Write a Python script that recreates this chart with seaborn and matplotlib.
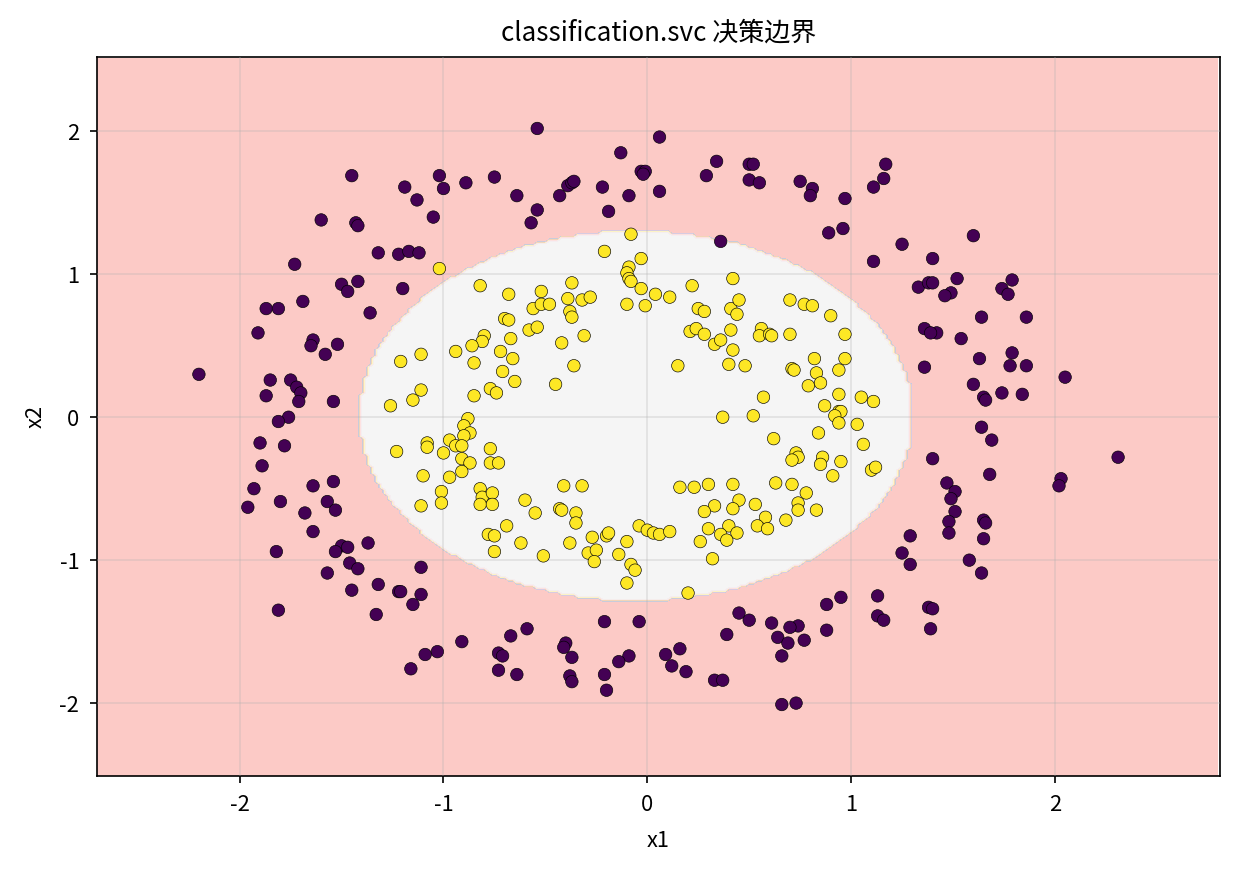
import numpy as np
import pandas as pd
import matplotlib
matplotlib.use("Agg")
import matplotlib.pyplot as plt
import seaborn as sns

# ---- data: class 0 (outer ring) ----
x0 = [-1.45, -1.60, -1.43, -1.42, -1.32, -1.73, -1.42, -1.50, -1.47, -1.69,
      -0.54, -0.13, -0.03, -0.01, -0.02, 0.06, 0.06, -1.02, -1.19, -1.00,
      -0.89, -0.75, -1.13, -1.05, -0.64, -0.54, -0.57, -0.43, -0.39, -0.37,
      -0.36, -0.22, -0.09, -0.19, -1.22, -1.17, -1.12, -1.20, 0.34, 0.29,
      0.50, 0.52, 0.50, 0.55, 0.75, 0.81, 0.80, 0.97, 0.89, 0.96,
      1.17, 1.16, 1.11, 1.25, 1.11, 1.40, 0.36, 1.33, 1.38, 1.40,
      1.60, 1.52, 1.79, 1.74, 1.49, 1.46, 1.77, 1.64, 1.86, 1.42,
      1.54, 1.63, 1.79, 1.78, 1.86, 2.05, 1.60, 1.65, 1.66, 1.74,
      1.84, 1.64, 1.69, 1.40, 2.31, 2.03, 2.02, 1.68, 1.47, 1.51,
      1.49, 1.51, 1.48, 1.65, 1.66, 1.48, 1.65, 1.58, 1.64, 1.36,
      1.39, 1.36, 1.29, 1.25, 1.29, 1.13, 1.13, 1.16, 1.38, 1.40,
      1.39, 0.95, 0.88, 0.88, 0.74, 0.70, 0.77, 0.61, 0.64, 0.69,
      0.66, 0.45, 0.50, 0.39, 0.09, 0.16, 0.12, 0.19, 0.33, 0.37,
      0.66, 0.73, -1.11, -1.32, -1.22, -1.21, -1.11, -1.15, -1.33, -0.59,
      -0.67, -0.91, -1.03, -1.09, -1.16, -0.73, -0.71, -0.73, -0.64, -0.40,
      -0.41, -0.37, -0.38, -0.37, -0.21, -0.04, -0.09, -0.14, -0.21, -0.20,
      -1.82, -1.81, -1.50, -1.47, -1.53, -1.37, -1.46, -1.42, -1.57, -1.45,
      -1.64, -1.87, -1.81, -1.36, -1.91, -1.64, -1.65, -1.52, -1.58, -2.20,
      -1.85, -1.75, -1.72, -1.70, -1.87, -1.71, -1.54, -1.76, -1.81, -1.90,
      -1.78, -1.89, -1.54, -1.64, -1.93, -1.80, -1.57, -1.53, -1.96, -1.68]
y0 = [1.69, 1.38, 1.36, 1.34, 1.15, 1.07, 0.95, 0.93, 0.88, 0.81,
      2.02, 1.85, 1.72, 1.72, 1.70, 1.96, 1.58, 1.69, 1.61, 1.60,
      1.64, 1.68, 1.52, 1.40, 1.55, 1.45, 1.36, 1.55, 1.62, 1.64,
      1.65, 1.61, 1.55, 1.44, 1.14, 1.16, 1.15, 0.90, 1.79, 1.69,
      1.77, 1.77, 1.66, 1.64, 1.65, 1.60, 1.55, 1.53, 1.29, 1.32,
      1.77, 1.67, 1.61, 1.21, 1.09, 1.11, 1.23, 0.91, 0.94, 0.94,
      1.27, 0.97, 0.96, 0.90, 0.87, 0.85, 0.86, 0.70, 0.70, 0.59,
      0.55, 0.41, 0.45, 0.36, 0.36, 0.28, 0.23, 0.14, 0.12, 0.17,
      0.16, -0.07, -0.16, -0.29, -0.28, -0.43, -0.48, -0.40, -0.46, -0.52,
      -0.57, -0.66, -0.73, -0.72, -0.74, -0.81, -0.85, -1.00, -1.09, 0.62,
      0.59, 0.35, -0.83, -0.95, -1.03, -1.25, -1.39, -1.42, -1.33, -1.34,
      -1.48, -1.26, -1.31, -1.49, -1.46, -1.47, -1.56, -1.44, -1.54, -1.58,
      -1.67, -1.37, -1.42, -1.52, -1.66, -1.62, -1.74, -1.78, -1.84, -1.84,
      -2.01, -2.00, -1.05, -1.17, -1.22, -1.22, -1.24, -1.31, -1.38, -1.48,
      -1.53, -1.57, -1.64, -1.66, -1.76, -1.65, -1.67, -1.77, -1.80, -1.58,
      -1.61, -1.68, -1.81, -1.85, -1.43, -1.43, -1.67, -1.71, -1.80, -1.91,
      -0.94, -1.35, -0.90, -0.91, -0.94, -0.88, -1.02, -1.06, -1.09, -1.21,
      -0.80, 0.76, 0.76, 0.73, 0.59, 0.54, 0.50, 0.51, 0.44, 0.30,
      0.26, 0.26, 0.21, 0.17, 0.15, 0.11, 0.11, 0.00, -0.03, -0.18,
      -0.20, -0.34, -0.45, -0.48, -0.50, -0.59, -0.59, -0.65, -0.63, -0.67]

# ---- data: class 1 (inner ring) ----
x1 = [-0.68, -0.56, -0.52, -0.48, -0.39, -0.32, -0.28, -0.10, -0.01, -0.38,
      -0.37, -0.70, -0.68, -0.58, -0.54, -0.80, -0.81, -0.86, -0.67, -0.94,
      -0.72, -0.66, -0.85, -0.71, -0.65, -0.42, -0.31, -0.36, -0.45, -1.21,
      -1.11, -1.11, -1.15, -1.26, -0.85, -0.77, -0.74, -0.88, -0.90, -0.87,
      -0.90, -0.97, -0.94, -0.91, -1.08, -1.08, -1.23, -1.00, -0.77, -0.91,
      -0.87, -0.77, -0.73, -0.91, -1.10, -0.97, -1.01, -1.01, -1.11, -0.82,
      -0.81, -0.82, -0.76, -0.76, -0.60, -0.55, -0.41, -0.32, -0.43, -0.42,
      -0.35, -0.35, -0.69, -0.78, -0.75, -0.27, -0.20, -0.19, -0.04, 0.00,
      0.03, -0.75, -0.62, -0.51, -0.38, -0.29, -0.25, -0.26, -0.14, -0.10,
      -0.08, -0.06, -0.10, -0.08, -0.21, -0.03, -0.09, -0.10, -0.09, -0.08,
      -0.03, -0.37, -0.82, -0.52, -1.02, 0.42, 0.22, 0.04, 0.11, 0.25,
      0.28, 0.41, 0.45, 0.44, 0.70, 0.77, 0.81, 0.90, 0.21, 0.24,
      0.28, 0.33, 0.36, 0.41, 0.42, 0.56, 0.55, 0.60, 0.61, 0.70,
      0.97, 0.15, 0.40, 0.48, 0.71, 0.72, 0.82, 0.97, 0.83, 0.94,
      0.79, 0.85, 0.94, 1.05, 1.11, 0.57, 0.87, 0.94, 0.95, 0.92,
      0.94, 1.03, 0.37, 0.52, 0.84, 0.62, 1.06, 0.73, 0.74, 0.71,
      0.86, 0.85, 0.95, 1.10, 1.12, 0.91, 0.16, 0.23, 0.30, 0.42,
      0.63, 0.71, 0.78, 0.74, 0.74, 0.83, 0.45, 0.42, 0.33, 0.28,
      0.53, 0.58, 0.54, 0.59, 0.68, 0.40, 0.44, 0.36, 0.30, 0.06,
      0.11, 0.26, 0.32, 0.20, 0.39]
y1 = [0.86, 0.76, 0.79, 0.79, 0.83, 0.82, 0.84, 0.79, 0.78, 0.74,
      0.70, 0.69, 0.68, 0.61, 0.63, 0.57, 0.53, 0.50, 0.55, 0.46,
      0.46, 0.41, 0.38, 0.32, 0.25, 0.52, 0.57, 0.36, 0.23, 0.39,
      0.44, 0.19, 0.12, 0.08, 0.15, 0.20, 0.17, -0.01, -0.06, -0.11,
      -0.13, -0.16, -0.20, -0.20, -0.18, -0.21, -0.24, -0.25, -0.22, -0.29,
      -0.32, -0.32, -0.32, -0.38, -0.41, -0.42, -0.52, -0.60, -0.62, -0.50,
      -0.56, -0.61, -0.53, -0.61, -0.58, -0.67, -0.48, -0.48, -0.64, -0.65,
      -0.67, -0.74, -0.76, -0.82, -0.83, -0.84, -0.83, -0.81, -0.76, -0.79,
      -0.81, -0.94, -0.88, -0.97, -0.88, -0.95, -0.93, -1.01, -0.96, -0.87,
      -1.03, -1.07, -1.16, 1.28, 1.16, 1.11, 1.05, 1.01, 0.97, 0.95,
      0.90, 0.94, 0.92, 0.88, 1.04, 0.97, 0.92, 0.86, 0.84, 0.76,
      0.74, 0.76, 0.82, 0.72, 0.82, 0.79, 0.78, 0.71, 0.60, 0.62,
      0.58, 0.51, 0.54, 0.61, 0.47, 0.62, 0.57, 0.58, 0.57, 0.58,
      0.58, 0.36, 0.37, 0.36, 0.34, 0.33, 0.41, 0.41, 0.31, 0.33,
      0.22, 0.24, 0.16, 0.14, 0.11, 0.14, 0.08, 0.04, 0.04, 0.01,
      -0.04, -0.05, 0.00, 0.01, -0.11, -0.15, -0.19, -0.25, -0.28, -0.30,
      -0.28, -0.33, -0.31, -0.37, -0.35, -0.41, -0.49, -0.49, -0.47, -0.47,
      -0.46, -0.47, -0.53, -0.60, -0.65, -0.65, -0.58, -0.64, -0.62, -0.66,
      -0.61, -0.70, -0.76, -0.78, -0.72, -0.76, -0.81, -0.82, -0.78, -0.82,
      -0.80, -0.87, -0.99, -1.23, -0.86]

# decision region (fitted RBF-SVC boundary, approximated as an ellipse)
boundary_center = (-0.055, 0.01)
boundary_axes = (1.355, 1.29)

title = "classification.svc 决策边界"
xlabel = "x1"
ylabel = "x2"

df = pd.DataFrame({
    "x1": x0 + x1,
    "x2": y0 + y1,
    "label": [0] * len(x0) + [1] * len(x1),
})

plt.rcParams["font.family"] = ["Noto Sans CJK SC", "DejaVu Sans"]
plt.rcParams["axes.unicode_minus"] = False

fig = plt.figure(figsize=(12.39 / 1.5, 8.75 / 1.5), dpi=150)
ax = fig.add_axes([97 / 1239, 1 - 776 / 875, (1220 - 97) / 1239, (776 - 57) / 875])

x_min, x_max = df["x1"].min() - 0.5, df["x1"].max() + 0.5
y_min, y_max = df["x2"].min() - 0.5, df["x2"].max() + 0.5
xx, yy = np.meshgrid(np.arange(x_min, x_max, 0.02), np.arange(y_min, y_max, 0.02))
Z = ((((xx - boundary_center[0]) / boundary_axes[0]) ** 2 +
      ((yy - boundary_center[1]) / boundary_axes[1]) ** 2) < 1).astype(float)
ax.contourf(xx, yy, Z, cmap="Pastel1", alpha=0.7, zorder=0)

sns.scatterplot(data=df, x="x1", y="x2", hue="label",
                palette={0: "#440154", 1: "#fde725"}, s=36,
                edgecolor="k", linewidth=0.3, legend=False, ax=ax, zorder=3)

ax.set_xlim(x_min, x_max)
ax.set_ylim(y_min, y_max)
ax.grid(True, alpha=0.3, zorder=1)
ax.set_axisbelow(False)
ax.set_xticks([-2, -1, 0, 1, 2])
ax.set_yticks([-2, -1, 0, 1, 2])
ax.tick_params(labelsize=10.5, pad=5)
ax.set_title(title, fontsize=12.5, pad=8)
ax.set_xlabel(xlabel, fontsize=10.5, labelpad=7)
ax.set_ylabel(ylabel, fontsize=10.5, labelpad=6)

fig.savefig("out.png", dpi=150)
